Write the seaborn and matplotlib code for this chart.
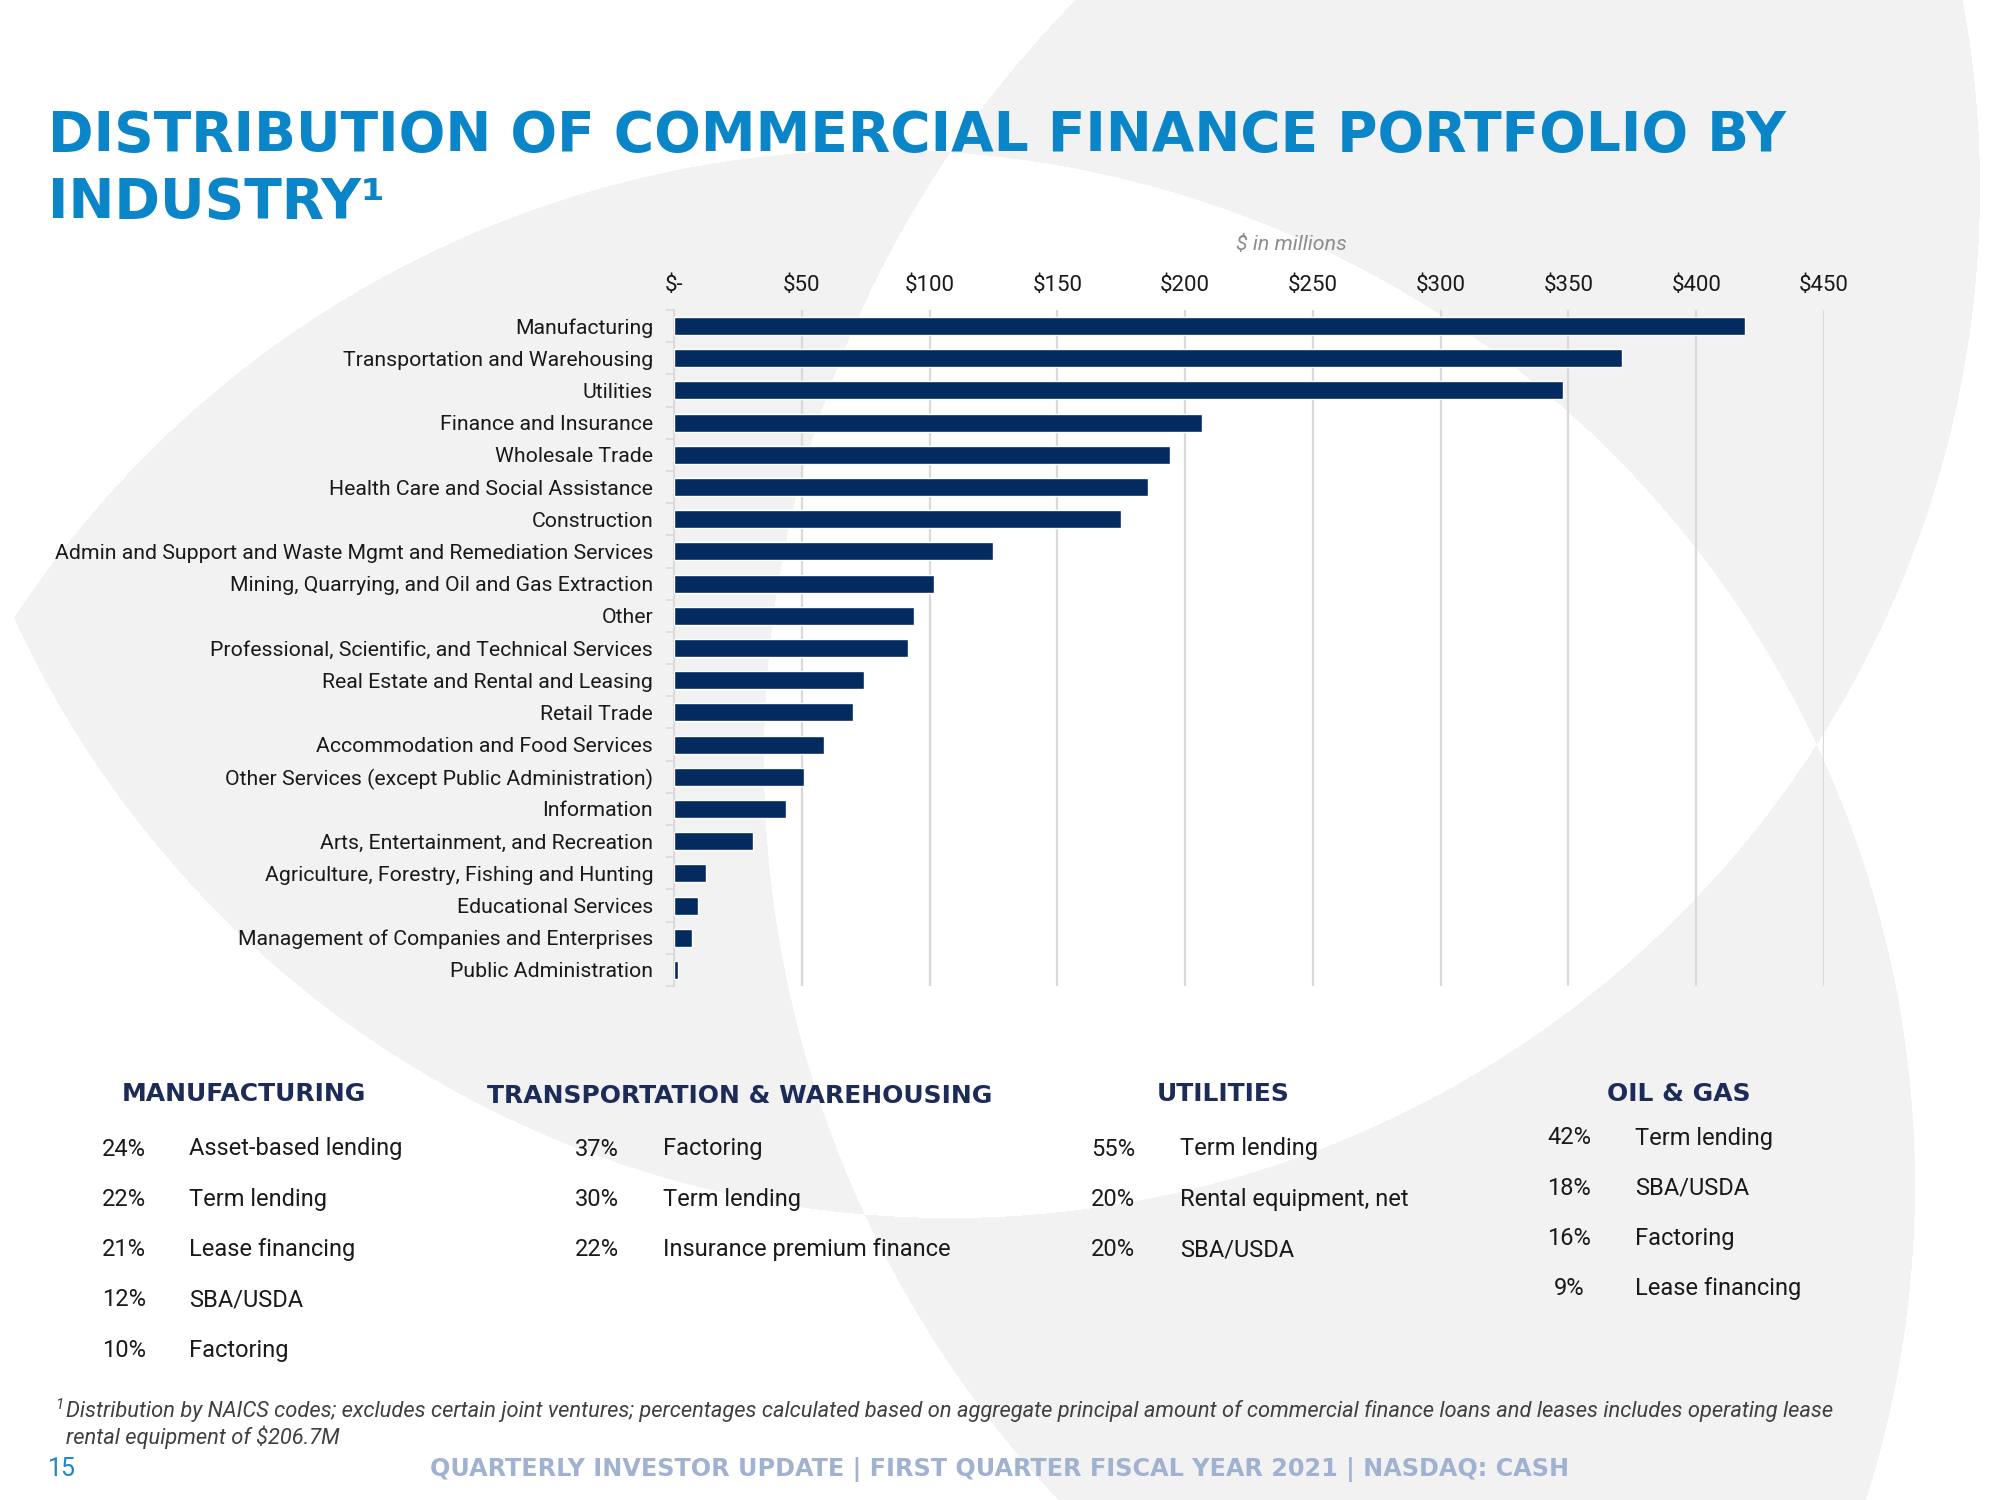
import numpy as np
import pandas as pd
import matplotlib
matplotlib.use("Agg")
import matplotlib.pyplot as plt
import seaborn as sns
from matplotlib.colors import ListedColormap

# ---------------- data ----------------
industries = [
    "Manufacturing",
    "Transportation and Warehousing",
    "Utilities",
    "Finance and Insurance",
    "Wholesale Trade",
    "Health Care and Social Assistance",
    "Construction",
    "Admin and Support and Waste Mgmt and Remediation Services",
    "Mining, Quarrying, and Oil and Gas Extraction",
    "Other",
    "Professional, Scientific, and Technical Services",
    "Real Estate and Rental and Leasing",
    "Retail Trade",
    "Accommodation and Food Services",
    "Other Services (except Public Administration)",
    "Information",
    "Arts, Entertainment, and Recreation",
    "Agriculture, Forestry, Fishing and Hunting",
    "Educational Services",
    "Management of Companies and Enterprises",
    "Public Administration",
]
amounts = [419, 371, 348, 206.5, 194, 185.5, 175, 124.7, 101.8, 94, 91.6,
           74.2, 70, 58.8, 50.7, 43.8, 30.8, 12.5, 9.3, 7.2, 1.5]

x_ticks = [0, 50, 100, 150, 200, 250, 300, 350, 400, 450]
x_tick_labels = ["$-", "$50", "$100", "$150", "$200", "$250", "$300", "$350", "$400", "$450"]

mfg_pcts = ["24%", "22%", "21%", "12%", "10%"]
mfg_labels = ["Asset-based lending", "Term lending", "Lease financing", "SBA/USDA", "Factoring"]
trans_pcts = ["37%", "30%", "22%"]
trans_labels = ["Factoring", "Term lending", "Insurance premium finance"]
util_pcts = ["55%", "20%", "20%"]
util_labels = ["Term lending", "Rental equipment, net", "SBA/USDA"]
oil_pcts = ["42%", "18%", "16%", "9%"]
oil_labels = ["Term lending", "SBA/USDA", "Factoring", "Lease financing"]

title_line1 = "DISTRIBUTION OF COMMERCIAL FINANCE PORTFOLIO BY"
title_line2 = "INDUSTRY\u00b9"
units_note = "$ in millions"
footnote1 = ("Distribution by NAICS codes; excludes certain joint ventures; percentages calculated based on "
             "aggregate principal amount of commercial finance loans and leases includes operating lease")
footnote2 = "rental equipment of $206.7M"
page_number = "15"
footer = "QUARTERLY INVESTOR UPDATE | FIRST QUARTER FISCAL YEAR 2021 | NASDAQ: CASH"

# ---------------- style ----------------
NAVY = "#032B60"
BLUE = "#0A86C8"
HEAD = "#1C2B58"
TXT = "#1A1A1A"
GRID = "#D9D9D9"

sns.set_theme(style="white")
plt.rcParams['font.family'] = ['Roboto', 'DejaVu Sans']

W, H = 2000, 1500
fig = plt.figure(figsize=(20, 15), dpi=100)
fig.patch.set_facecolor("white")


def fx(x):
    return x / W


def fy(y):
    return 1 - y / H


# ---------------- decorative background ----------------
bg = fig.add_axes([0, 0, 1, 1])
bg.set_axis_off()
grid_y, grid_x = np.mgrid[0:H, 0:W]
grid_x = grid_x + 0.5
grid_y = grid_y + 0.5


def inside(cx, cy, r):
    return (grid_x - cx) ** 2 + (grid_y - cy) ** 2 < r ** 2


cA = inside(950, 188, 1030)
cP = inside(880, 1185, 1035)
cQ = inside(1844, 759, 1080)
shade = (cA & (cP ^ cQ)) | (~cA & cP & cQ)
bg.imshow(shade.astype(float), cmap=ListedColormap(["#FFFFFF", "#F2F2F2"]), vmin=0, vmax=1,
          extent=(0, W, H, 0), interpolation="nearest", aspect="auto")
bg.set_xlim(0, W)
bg.set_ylim(H, 0)

# ---------------- chart ----------------
ax = fig.add_axes([fx(674), fy(986), fx(1824 - 674), (986 - 310) / H])
ax.set_facecolor("none")
df = pd.DataFrame({"industry": industries, "amount": amounts})
sns.barplot(data=df, x="amount", y="industry", orient="h", color=NAVY, saturation=1,
            width=0.56, ax=ax, zorder=3)
ax.set_xlim(0, 450)
ax.set_ylim(len(industries) - 0.5, -0.5)
ax.set_xticks(x_ticks)
ax.set_xticklabels(x_tick_labels)
ax.xaxis.tick_top()
ax.set_xlabel("")
ax.set_ylabel("")
ax.grid(axis="x", color=GRID, linewidth=1.6, zorder=0)
ax.grid(axis="y", visible=False)
ax.set_axisbelow(True)
for s in ["top", "right", "bottom"]:
    ax.spines[s].set_visible(False)
ax.spines["left"].set_color(GRID)
ax.spines["left"].set_linewidth(1.2)
ax.tick_params(axis="x", length=0, pad=10, labelsize=16, labelcolor=TXT)
ax.tick_params(axis="y", which="major", length=0, pad=15, labelsize=15.3, labelcolor=TXT)
ax.set_yticks(np.arange(-0.5, len(industries)), minor=True)
ax.tick_params(axis="y", which="minor", length=6, width=1.2, color=GRID, left=True)

fig.text(fx(1291), fy(244), units_note, ha="center", va="center", style="italic",
         color="#8C8C8C", fontsize=15.4)

# ---------------- title ----------------
fig.text(fx(48), fy(151), title_line1, ha="left", va="baseline", family="DejaVu Sans",
         weight="bold", fontsize=39.6, color=BLUE)
fig.text(fx(48), fy(218), title_line2, ha="left", va="baseline", family="DejaVu Sans",
         weight="bold", fontsize=39.6, color=BLUE)

# ---------------- bottom sections ----------------
head_kw = dict(ha="center", va="center", family="DejaVu Sans", weight="bold", fontsize=18, color=HEAD)
fig.text(fx(244), fy(1094), "MANUFACTURING", **head_kw)
fig.text(fx(740), fy(1096), "TRANSPORTATION & WAREHOUSING", **head_kw)
fig.text(fx(1223), fy(1094), "UTILITIES", **head_kw)
fig.text(fx(1679), fy(1094), "OIL & GAS", **head_kw)


def section(pcts, labels, pct_x, label_x, y0, step):
    for i, (p, l) in enumerate(zip(pcts, labels)):
        y = y0 + i * step
        fig.text(fx(pct_x), fy(y), p, ha="center", va="center", fontsize=17, color=TXT)
        fig.text(fx(label_x), fy(y), l, ha="left", va="center", fontsize=17, color=TXT)


section(mfg_pcts, mfg_labels, 124, 189, 1149, 50.3)
section(trans_pcts, trans_labels, 597, 663, 1149, 50.3)
section(util_pcts, util_labels, 1113, 1180, 1149, 50.3)
section(oil_pcts, oil_labels, 1569, 1635, 1138, 50.3)

# ---------------- footnote & footer ----------------
fig.text(fx(55), fy(1405), "1", ha="left", va="center", style="italic", fontsize=11, color="#404040")
fig.text(fx(66), fy(1411), footnote1, ha="left", va="center", style="italic", fontsize=15.75, color="#404040")
fig.text(fx(66), fy(1437), footnote2, ha="left", va="center", style="italic", fontsize=15.75, color="#404040")
fig.text(fx(48), fy(1469), page_number, ha="left", va="center", fontsize=18, color="#1F86C8")
fig.text(fx(1000), fy(1469), footer, ha="center", va="center", family="DejaVu Sans",
         weight="bold", fontsize=17.2, color="#A0B1D1")

fig.savefig("out.png", dpi=100, facecolor="white")
